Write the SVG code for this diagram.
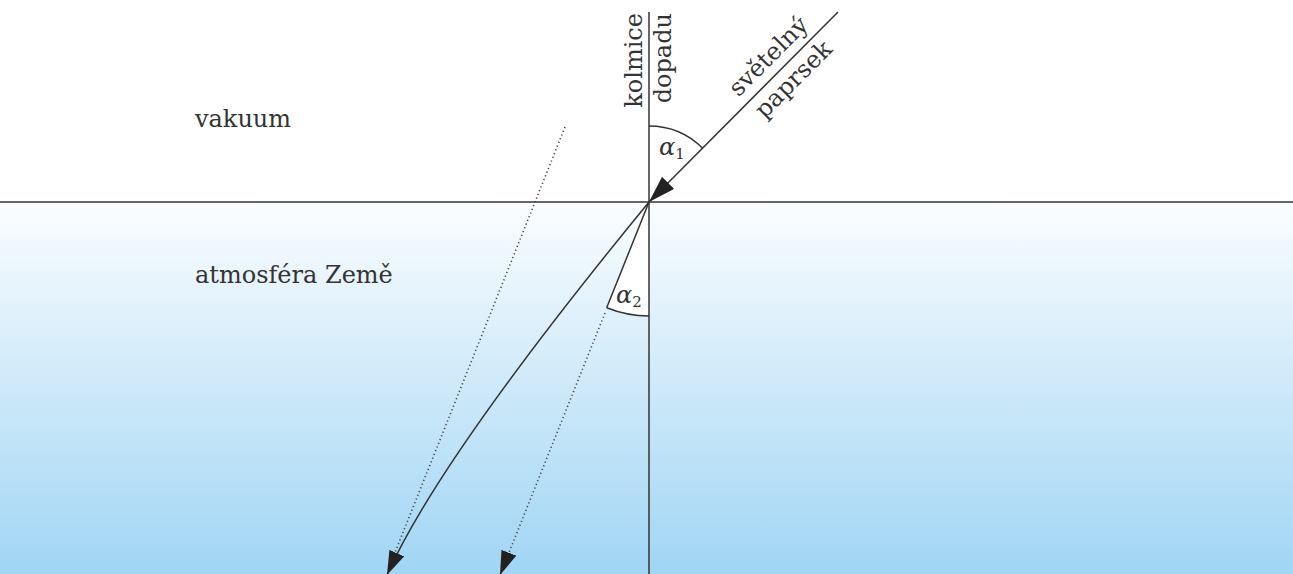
<svg xmlns="http://www.w3.org/2000/svg" width="1293" height="574" viewBox="0 0 1293 574">
<style>
  .lbl { font-family: "DejaVu Serif", "Liberation Serif", serif; font-size: 24px; fill: #333; }
  .greek { font-family: "DejaVu Serif", "Liberation Serif", serif; font-style: italic; font-size: 24px; fill: #333; }
  .sub { font-family: "DejaVu Serif", "Liberation Serif", serif; font-size: 15px; fill: #333; }
  .solid { fill: none; stroke: #333; stroke-width: 1.5; }
  .dotted { fill: none; stroke: #444; stroke-width: 1.6; stroke-dasharray: 1.2 2.8; }
</style>
<defs>
  <linearGradient id="sky" x1="0" y1="0" x2="0" y2="1">
    <stop offset="0" stop-color="#fbfdff"/>
    <stop offset="1" stop-color="#a0d5f4"/>
  </linearGradient>
  <marker id="ah" markerUnits="userSpaceOnUse" markerWidth="24" markerHeight="16" viewBox="0 0 24 16" refX="24" refY="8" orient="auto">
    <path d="M0,0 L24,8 L0,16 Z" fill="#222"/>
  </marker>
  <marker id="ah2" markerUnits="userSpaceOnUse" markerWidth="27" markerHeight="17" viewBox="0 0 27 17" refX="27" refY="8.5" orient="auto">
    <path d="M0,0 L27,8.5 L0,17 Z" fill="#222"/>
  </marker>
</defs>
<rect x="0" y="0" width="1293" height="574" fill="#ffffff"/>
<rect id="atmosphere" x="0" y="202" width="1293" height="372" fill="url(#sky)"/>
<path id="alpha2-sector" d="M649,202 L606.7,307.8 A114,114 0 0 0 649,316 Z" fill="#ffffff"/>

<g id="connectors">
  <line class="solid" x1="0" y1="202" x2="1293" y2="202" stroke-width="1.8"/>
  <line class="solid" x1="649" y1="12" x2="649" y2="574"/>
  <line class="solid" x1="838" y1="12" x2="649" y2="202" marker-end="url(#ah2)"/>
  <path class="solid" d="M649,126 A76,76 0 0 1 702.7,148.3"/>
  <path class="solid" d="M606.7,307.8 A114,114 0 0 0 649,316"/>
  <line class="solid" x1="649" y1="202" x2="606.7" y2="307.8"/>
  <line class="dotted" x1="605" y1="313" x2="500" y2="575" marker-end="url(#ah)"/>
  <line class="dotted" x1="565" y1="127" x2="392" y2="560"/>
  <path class="solid" d="M649,202 Q439,458 387,575" marker-end="url(#ah)"/>
</g>

<g id="vakuum"><text class="lbl" x="195" y="127">vakuum</text></g>
<g id="atmosfera"><text class="lbl" x="195" y="283">atmosféra Země</text></g>
<g id="kolmice"><text class="lbl" transform="translate(642,13) rotate(-90)" text-anchor="end">kolmice</text></g>
<g id="dopadu"><text class="lbl" transform="translate(671,13) rotate(-90)" text-anchor="end">dopadu</text></g>
<g id="svetelny"><text class="lbl" transform="translate(774,62) rotate(-45)" text-anchor="middle">světelný</text></g>
<g id="paprsek"><text class="lbl" transform="translate(799,85) rotate(-45)" text-anchor="middle">paprsek</text></g>
<g id="alpha1"><text class="greek" x="659" y="155">α<tspan class="sub" font-style="normal" dy="4">1</tspan></text></g>
<g id="alpha2"><text class="greek" x="616" y="303">α<tspan class="sub" font-style="normal" dy="4">2</tspan></text></g>
</svg>
